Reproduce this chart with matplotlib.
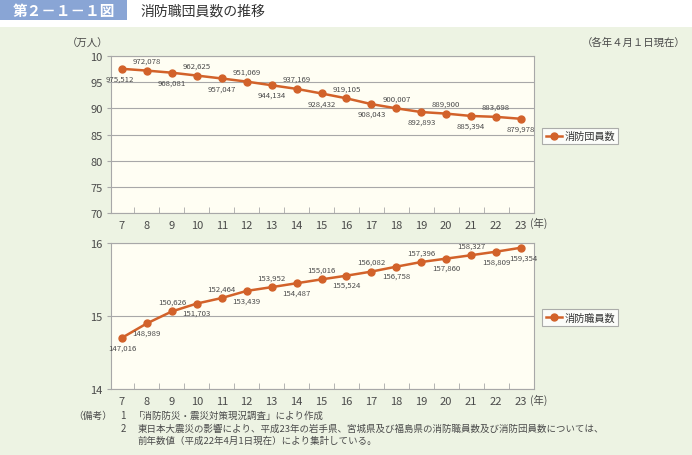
import numpy as np
import matplotlib
matplotlib.use("Agg")
from matplotlib import pyplot as plt
from matplotlib.patches import Rectangle

plt.rcParams['font.family'] = ['Noto Sans CJK JP', 'DejaVu Sans']

years = list(range(7, 24))
dan = [975512, 972078, 968081, 962625, 957047, 951069, 944134, 937169, 928432,
       919105, 908043, 900007, 892893, 889900, 885394, 883698, 879978]
shoku = [147016, 148989, 150626, 151703, 152464, 153439, 153952, 154487, 155016,
         155524, 156082, 156758, 157396, 157860, 158327, 158809, 159354]
# label placement: 1 = above, -1 = below
dan_pos = [-1, 1, -1, 1, -1, 1, -1, 1, -1, 1, -1, 1, -1, 1, -1, 1, -1]
shoku_pos = [-1, -1, 1, -1, 1, -1, 1, -1, 1, -1, 1, -1, 1, -1, 1, -1, -1]
dan_yticks = [70, 75, 80, 85, 90, 95, 100]
dan_ylabels = ['70', '75', '80', '85', '90', '95', '10']
shoku_yticks = [14, 15, 16]

W, H = 692, 456
ORANGE = '#d2622a'
TXT = '#4a4a4a'
GRID = '#a8a8a8'

fig = plt.figure(figsize=(W / 100, H / 100), dpi=100)
fig.patch.set_facecolor('white')

# background layer (green panel + title tag)
bg = fig.add_axes([0, 0, 1, 1], zorder=-10)
bg.set_xlim(0, W)
bg.set_ylim(H, 0)
bg.axis('off')
bg.add_patch(Rectangle((0, 28), W, H - 28, facecolor='#edf3e3', edgecolor='none'))
bg.add_patch(Rectangle((0, 0), 127, 21, facecolor='#89a5d5', edgecolor='none'))
bg.text(64, 11, '第２－１－１図', color='white', fontsize=10.5,
        fontweight='bold', va='center', ha='center')
bg.text(140, 12, '消防職団員数の推移', color='#333333', fontsize=10,
        va='center', ha='left')


def pix_axes(x0, y0, x1, y1):
    return fig.add_axes([x0 / W, 1 - y1 / H, (x1 - x0) / W, (y1 - y0) / H])


def style_axes(ax, yticks, ylabels, ylim):
    ax.set_facecolor('#fffef3')
    ax.set_xlim(6.56, 23.52)
    ax.set_ylim(*ylim)
    ax.set_yticks(yticks)
    ax.set_yticklabels(ylabels)
    ax.set_xticks(years)
    ax.set_xticklabels([str(y) for y in years])
    ax.set_xticks(np.arange(7.5, 23, 1.0), minor=True)
    ax.tick_params(axis='x', which='major', length=0, labelsize=8, labelcolor=TXT, pad=5)
    ax.tick_params(axis='x', which='minor', length=4, direction='in', color=GRID)
    ax.tick_params(axis='y', length=3, direction='out', color=GRID, labelsize=8,
                   labelcolor=TXT, pad=3)
    for s in ax.spines.values():
        s.set_color(GRID)
        s.set_linewidth(0.8)
    ax.grid(axis='y', color=GRID, linewidth=0.8)
    ax.set_axisbelow(True)


def add_legend(ax):
    leg = ax.legend(loc='center left', bbox_to_anchor=(1.02, 0.49), fontsize=7.3,
                    frameon=True, fancybox=False, handlelength=1.6, borderpad=0.3,
                    handletextpad=0.3, borderaxespad=0)
    leg.get_frame().set_edgecolor('#999999')
    leg.get_frame().set_linewidth(0.8)
    for t in leg.get_texts():
        t.set_color('#333333')


# upper chart: 消防団員数
ax1 = pix_axes(111, 57, 534, 214)
style_axes(ax1, dan_yticks, dan_ylabels, (70, 100))
dan_v = np.array(dan) / 10000
ax1.plot(years, dan_v, color=ORANGE, lw=1.8, marker='o', ms=5, zorder=3,
         label='消防団員数')
for i, (x, v, p) in enumerate(zip(years, dan_v, dan_pos)):
    dx = -0.1 if i == 0 else 0
    ax1.text(x + dx, v + p * 1.1, f'{dan[i]:,}', fontsize=5.6, color=TXT, ha='center',
             va='bottom' if p > 0 else 'top', zorder=4)
add_legend(ax1)

# lower chart: 消防職員数
ax2 = pix_axes(111, 244, 534, 390)
style_axes(ax2, shoku_yticks, [str(v) for v in shoku_yticks], (14, 16))
shoku_v = np.array(shoku) / 10000
ax2.plot(years, shoku_v, color=ORANGE, lw=1.8, marker='o', ms=5, zorder=3,
         label='消防職員数')
for i, (x, v, p) in enumerate(zip(years, shoku_v, shoku_pos)):
    dx = 0.1 if i == len(years) - 1 else 0
    ax2.text(x + dx, v + p * 0.075, f'{shoku[i]:,}', fontsize=5.6, color=TXT,
             ha='center', va='bottom' if p > 0 else 'top', zorder=4)
add_legend(ax2)

# unit labels
bg.text(88, 44, '（万人）', fontsize=7.5, color=TXT, ha='center', va='center')
bg.text(686, 43, '（各年４月１日現在）', fontsize=7.5, color=TXT, ha='right', va='center')
bg.text(530, 223, '(年)', fontsize=7.5, color=TXT, ha='left', va='center')
bg.text(530, 400, '(年)', fontsize=7.5, color=TXT, ha='left', va='center')

# footnotes
bg.text(93, 416, '（備考）', fontsize=7, color=TXT, ha='center', va='center')
bg.text(123, 416, '1', fontsize=7, color=TXT, ha='center', va='center')
bg.text(123, 429, '2', fontsize=7, color=TXT, ha='center', va='center')
bg.text(134, 416, '「消防防災・震災対策現況調査」により作成', fontsize=6.8,
        color=TXT, ha='left', va='center')
bg.text(138, 429,
        '東日本大震災の影響により、平成23年の岩手県、宮城県及び福島県の消防職員数及び消防団員数については、',
        fontsize=6.8, color=TXT, ha='left', va='center')
bg.text(138, 441, '前年数値（平成22年4月1日現在）により集計している。',
        fontsize=6.8, color=TXT, ha='left', va='center')

fig.savefig('out.png', dpi=100, facecolor=fig.get_facecolor())
